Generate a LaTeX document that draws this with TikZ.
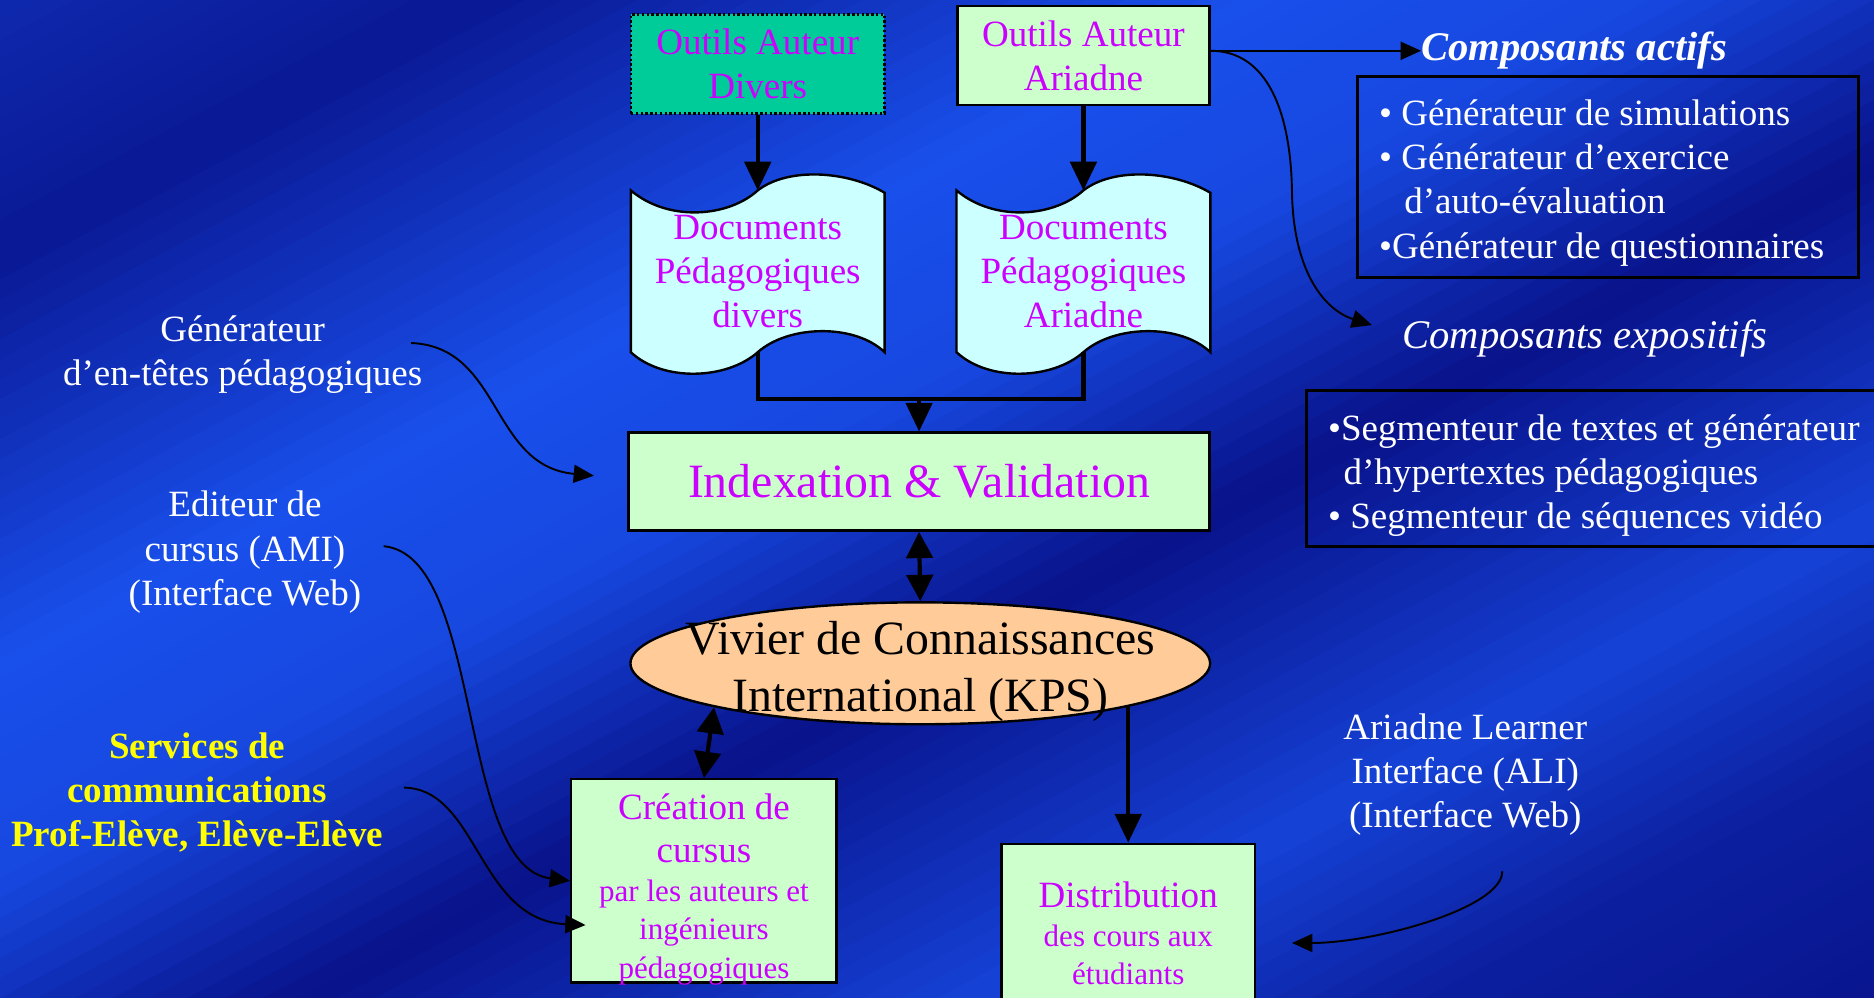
\documentclass[tikz,border=0pt]{standalone}
\usepackage{fontspec}
\setmainfont{Liberation Serif}
\usetikzlibrary{arrows.meta,shapes.geometric,calc,positioning}

\definecolor{bgdark}{HTML}{08128A}
\definecolor{bgbright}{HTML}{1A52F0}
\definecolor{boxgreen}{HTML}{CCFFCC}
\definecolor{boxteal}{HTML}{00CC99}
\definecolor{tapecyan}{HTML}{CCFFFF}
\definecolor{peach}{HTML}{FFCC99}
\definecolor{txtmag}{HTML}{CC00FF}
\definecolor{servyellow}{HTML}{FFFF00}

\newcommand\normtxt{\fontsize{31}{37}\selectfont}
\newcommand\smalltxt{\fontsize{26}{32}\selectfont}
\newcommand\bigtxt{\fontsize{40}{48}\selectfont}
\newcommand\titletxt{\fontsize{34}{40}\selectfont}

% wavy document (punched tape) drawn round a text node
\newcommand\tapeshape[1]{%
  \fill[tapeline] (#1.north west) .. controls +(32,27) and +(-24,22) .. (#1.north)
    .. controls +(26,-20) and +(-30,-18) .. ([yshift=-2pt]#1.north east)
    -- (#1.south east) .. controls +(-25,-24) and +(26,-23) .. (#1.south)
    .. controls +(-26,23) and +(27,25) .. (#1.south west) -- cycle;}

\pgfdeclarelayer{bg}
\pgfdeclarelayer{mid}
\pgfsetlayers{bg,mid,main}

\tikzset{
  greenbox/.style={draw=black,line width=2pt,fill=boxgreen,text=txtmag,
                   align=center,inner sep=0pt,font=\normtxt},
  boxtext/.style={text=txtmag,align=center,inner sep=0pt,font=\smalltxt},
  tapetext/.style={text=txtmag,align=center,inner sep=0pt,font=\normtxt,
                   minimum width=212pt,minimum height=135pt},
  tapeline/.style={fill=tapecyan,draw=black,line width=2pt},
  listbox/.style={draw=black,line width=2.5pt,text=white,align=left,
                  inner xsep=19pt,inner ysep=0pt,font=\normtxt},
  sidetext/.style={text=white,align=center,inner sep=0pt,font=\normtxt},
  bigarrow/.style={line width=3.5pt,-{Triangle[length=24pt,width=22pt]}},
  bigdouble/.style={line width=3.5pt,{Triangle[length=22pt,width=22pt]}-{Triangle[length=22pt,width=22pt]}},
  thinarrow/.style={line width=1.6pt,-{Triangle[length=17pt,width=15pt]}}
}

\begin{document}
\begin{tikzpicture}[x=1pt,y=-1pt]
\useasboundingbox (0,0) rectangle (1568,835);

% background
\begin{pgfonlayer}{bg}
\begin{scope}
\clip (0,0) rectangle (1568,835);
\foreach \i in {0,...,99} {
  \pgfmathsetmacro\u{(\i+0.5)/100}
  \pgfmathsetmacro\p{\u<0.13 ? 35-25*\u/0.13 : (\u<0.33 ? 10+85*(\u-0.13)/0.2 :
    (\u<0.44 ? 95-10*(\u-0.33)/0.11 : (\u<0.58 ? 85-85*(\u-0.44)/0.14 :
    (\u<0.76 ? 75*(\u-0.58)/0.18 : (\u<0.88 ? 75-55*(\u-0.76)/0.12 : 20-15*(\u-0.88)/0.12)))))}
  \colorlet{bgc}{bgbright!\p!bgdark}
  \fill[bgc] ({\i*0.02*1568},0) -- ({(\i+1.3)*0.02*1568},0)
    -- (0,{(\i+1.3)*0.02*835}) -- (0,{\i*0.02*835}) -- cycle;
}
\end{scope}
\end{pgfonlayer}

% sources
\node[greenbox,fill=boxteal,dash pattern=on 2pt off 2pt,
      minimum width=212pt,minimum height=83pt] (outdiv) at (634,53.5) {Outils Auteur\\Divers};
\node[greenbox,minimum width=211pt,minimum height=83pt] (outari) at (906.5,46.5) {Outils Auteur\\Ariadne};
\node[tapetext] (docdiv) at (634,227) {Documents\\Pédagogiques\\divers};
\node[tapetext] (docari) at (906.5,227) {Documents\\Pédagogiques\\Ariadne};
\begin{pgfonlayer}{mid}
\tapeshape{docdiv}
\tapeshape{docari}
\end{pgfonlayer}

% centre
\node[greenbox,font=\bigtxt,minimum width=486pt,minimum height=82pt] (index) at (769,403) {Indexation \& Validation};
\node[ellipse,draw=black,line width=2pt,fill=peach,minimum width=485pt,
      minimum height=102pt] (vivier) at (770,555) {};
\node[align=center,font=\bigtxt,inner sep=0pt] (viviertext) at ([yshift=-7pt]vivier.center)
  {Vivier de Connaissances\\International (KPS)};
\node[greenbox,minimum width=222pt,minimum height=170pt] (creation) at (589,737) {};
\node[boxtext] (creationtext) at ([yshift=-7pt]creation.center)
  {{\normtxt Création de}\\[4pt]{\normtxt cursus}\\[1pt]par les auteurs et\\ingénieurs\\pédagogiques};
\node[greenbox,minimum width=212pt,minimum height=134pt] (distrib) at (944,773) {};
\node[boxtext] (distribtext) at ([yshift=-8pt]distrib.center)
  {{\normtxt Distribution}\\[1pt]des cours aux\\étudiants};

% right hand side
\node[anchor=west,text=white,font=\titletxt\bfseries\itshape,inner sep=0pt] (acttitle) at (1189,42.5) {Composants actifs};
\node[listbox,minimum width=419pt,minimum height=168pt,text width=381pt] (actbox) at (1345.5,148) {};
\node[text=white,align=left,font=\normtxt,inner sep=0pt,anchor=west] (acttext) at ([xshift=19pt,yshift=-5pt]actbox.west)
  {• Générateur de simulations\\• Générateur d’exercice\\\hspace*{21pt}d’auto-évaluation\\•Générateur de questionnaires};
\node[text=white,font=\titletxt\itshape,inner sep=0pt] (expotitle) at (1326,283) {Composants expositifs};
\node[listbox,anchor=west,minimum width=508pt,minimum height=130pt,text width=470pt] (expobox) at (1092,392) {};
\node[text=white,align=left,font=\normtxt,inner sep=0pt,anchor=west] (expotext) at ([xshift=19pt,yshift=-6pt]expobox.west)
  {•Segmenteur de textes et générateur\\\hspace*{13pt}d’hypertextes pédagogiques\\• Segmenteur de séquences vidéo};

% left hand side
\node[sidetext] (gen) at (203,297) {Générateur\\d’en-têtes pédagogiques};
\node[sidetext] (editeur) at (205,462) {Editeur de\\cursus (AMI)\\(Interface Web)};
\node[sidetext,text=servyellow,font=\normtxt\bfseries] (services) at (165,663)
  {Services de\\communications\\Prof-Elève, Elève-Elève};
\node[sidetext] (ali) at (1226,648) {Ariadne Learner\\Interface (ALI)\\(Interface Web)};

% free ends of the curved connectors
\coordinate (join) at (769,334);
\coordinate (genout) at (344,287);
\coordinate (indexin) at (497,398);
\coordinate (editout) at (321,457);
\coordinate (servout) at (338,659);
\coordinate (creatin) at (490,774);
\coordinate (aliout) at (1257,729);
\coordinate (distin) at (1081,789);
\coordinate (bend) at (1081,160);
\coordinate (expoin) at (1148,272);

% thick connectors
\draw[bigarrow] (outdiv.south) -- (docdiv.north);
\draw[bigarrow] (outari.south) -- (docari.north);
\draw[line width=3.5pt] (docdiv.south) -- (docdiv.south |- join) -- (docari.south |- join) -- (docari.south);
\draw[bigarrow] (join) -- (index.north);
\draw[bigdouble] (index.south) -- (vivier.north);
\draw[bigdouble] (vivier.192) -- (creation.north);
\draw[bigarrow] (vivier.-12 -| distrib.north) -- (distrib.north);

% thin connectors
\draw[thinarrow] ([yshift=4pt]outari.east) -- (acttitle.west);
\draw[thinarrow] ([yshift=4pt]outari.east) .. controls +(48,0) and +(-1,-65) .. (bend)
  .. controls +(1,70) and +(-38,-12) .. (expoin);
\draw[thinarrow] (genout) .. controls +(76,3) and +(-87,-8) .. (indexin);
\draw[thinarrow] (editout) .. controls +(84,8) and +(-95,-12) .. (creation.west);
\draw[thinarrow] (servout) .. controls +(62,1) and +(-90,-4) .. (creatin);
\draw[thinarrow] (aliout) .. controls +(0,31) and +(69,0) .. (distin);
\end{tikzpicture}
\end{document}
